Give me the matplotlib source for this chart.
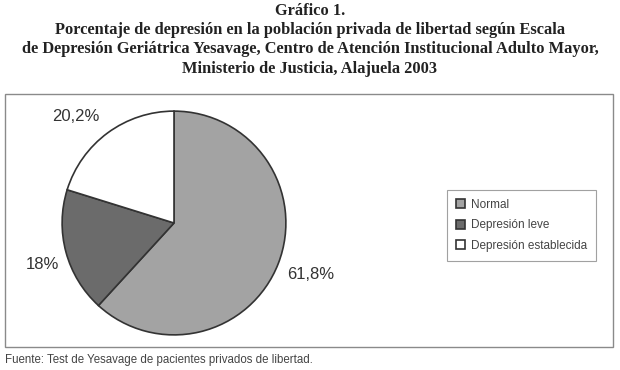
import matplotlib
matplotlib.use("Agg")
import matplotlib.pyplot as plt
from matplotlib.patches import Rectangle

# datos del grafico
categorias = ["Normal", "Depresión leve", "Depresión establecida"]
porcentajes = [61.8, 18.0, 20.2]
etiquetas = ["61,8%", "18%", "20,2%"]
colores = ["#a3a3a3", "#6b6b6b", "#ffffff"]

titulo = ("Gráfico 1.\n"
          "Porcentaje de depresión en la población privada de libertad según Escala\n"
          "de Depresión Geriátrica Yesavage, Centro de Atención Institucional Adulto Mayor,\n"
          "Ministerio de Justicia, Alajuela 2003")
fuente = "Fuente: Test de Yesavage de pacientes privados de libertad."

W, H = 620, 370
fig = plt.figure(figsize=(W / 100, H / 100), dpi=100)
fig.patch.set_facecolor("white")

# titulo
fig.text(0.5, 1 - 3 / H, titulo, ha="center", va="top", fontsize=11.8,
         family="Liberation Serif", fontweight="bold", color="#222222",
         linespacing=1.27)

# marco del grafico
fig.add_artist(Rectangle((5 / W, 1 - 347 / H), 608 / W, 253 / H,
                         transform=fig.transFigure, fill=False,
                         edgecolor="#8a8a8a", lw=1.0))

# pastel
cx, cy, r = 174, 223, 113
ax = fig.add_axes([(cx - r) / W, (H - cy - r) / H, 2 * r / W, 2 * r / H])
wedges, textos = ax.pie(porcentajes, labels=etiquetas, colors=colores,
                        startangle=90, counterclock=False, labeldistance=1.29,
                        wedgeprops=dict(edgecolor="#333333", linewidth=1.2),
                        textprops=dict(fontsize=12, family="Liberation Sans",
                                       color="#333333"))
# pequeño ajuste de las etiquetas como en el original
ajustes = [(0.02, 0.01), (0.07, -0.03), (-0.115, -0.09)]
for t, (dx, dy) in zip(textos, ajustes):
    x, y = t.get_position()
    t.set_position((x + dx, y + dy))
    t.set_ha("center")
    t.set_va("center")
ax.set_xlim(-1.01, 1.01)
ax.set_ylim(-1.01, 1.01)
ax.set_aspect("equal")

# leyenda
leg = fig.legend(wedges, categorias, loc="upper left",
                 bbox_to_anchor=(447 / W, 1 - 190 / H),
                 prop=dict(family="Liberation Sans", size=8.5),
                 frameon=True, fancybox=False, edgecolor="#8a8a8a",
                 handlelength=0.75, handleheight=0.75, handletextpad=0.5,
                 labelspacing=0.72, borderpad=0.75, borderaxespad=0)
leg.get_frame().set_linewidth(0.8)
for t in leg.get_texts():
    t.set_color("#444444")

# fuente
fig.text(5 / W, 1 - 360 / H, fuente, ha="left", va="center", fontsize=8.3,
         family="Liberation Sans", color="#444444")

fig.savefig("out.png", dpi=100)
